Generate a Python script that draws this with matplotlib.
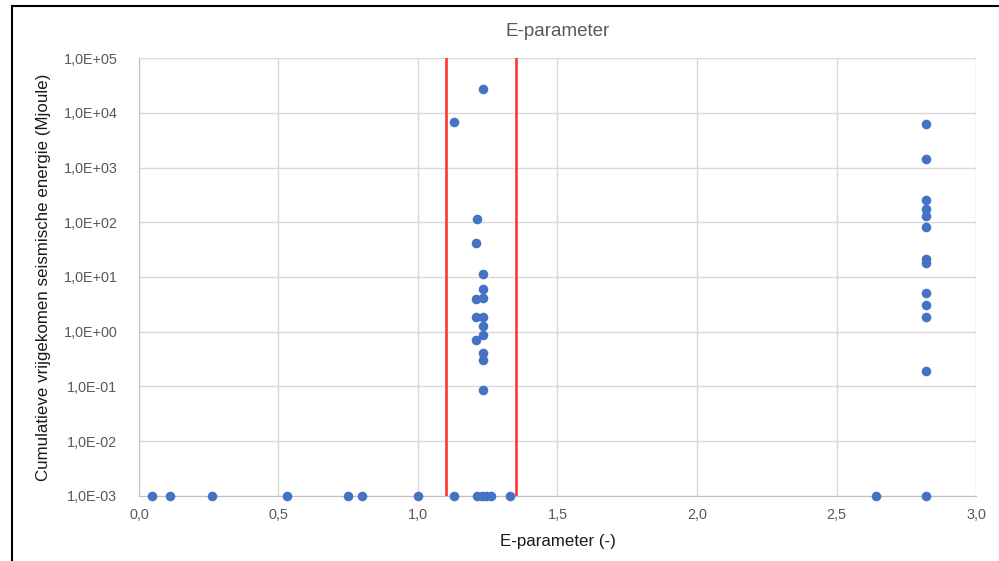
import matplotlib
matplotlib.use("Agg")
import matplotlib.pyplot as plt
from matplotlib.ticker import FuncFormatter, FixedLocator
from matplotlib.lines import Line2D

plt.rcParams["font.family"] = ["Liberation Sans", "DejaVu Sans"]

# Punten op de ondergrens (1,0E-03)
x_bodem = [0.045, 0.11, 0.26, 0.53, 0.75, 0.80, 1.00, 1.13, 1.21, 1.23, 1.245, 1.26, 1.33, 2.64, 2.82]
y_bodem = [1e-3] * len(x_bodem)

# Middelste cluster
x_midden = [1.232, 1.130, 1.210, 1.209, 1.232, 1.232, 1.232, 1.209, 1.209, 1.232,
            1.232, 1.232, 1.209, 1.232, 1.232, 1.232]
y_midden = [26800, 6780, 113, 41, 11.3, 5.96, 4.07, 3.9, 1.84, 1.84,
            1.26, 0.86, 0.72, 0.415, 0.30, 0.087]

# Rechter cluster
x_rechts = [2.82] * 12
y_rechts = [6150, 1413, 252, 177, 128, 81, 21, 17.8, 5.16, 3.08, 1.84, 0.19]

# Grenslijnen
grenzen = [1.1, 1.35]

x = x_bodem + x_midden + x_rechts
y = y_bodem + y_midden + y_rechts

fig = plt.figure(figsize=(9.99, 5.61), dpi=100)
ax = fig.add_axes([0.1391, 0.1159, 0.977 - 0.1391, 0.8966 - 0.1159])

ax.set_yscale("log")
ax.set_xlim(0, 3.0)
ax.set_ylim(1e-3, 1e5)

for g in grenzen:
    ax.axvline(g, color="#ff3333", linewidth=1.9, zorder=2)

ax.scatter(x, y, s=48, color="#4472c4", zorder=3, clip_on=False, linewidths=0)

ax.xaxis.set_major_locator(FixedLocator([0, 0.5, 1.0, 1.5, 2.0, 2.5, 3.0]))
ax.yaxis.set_major_locator(FixedLocator([10.0 ** k for k in range(-3, 6)]))
ax.yaxis.set_minor_locator(FixedLocator([]))
ax.xaxis.set_major_formatter(FuncFormatter(lambda v, p: f"{v:.1f}".replace(".", ",")))
ax.yaxis.set_major_formatter(FuncFormatter(lambda v, p: f"{v:.1E}".replace(".", ",")))

ax.grid(True, color="#d9d9d9", linewidth=1.0, zorder=0)
ax.set_axisbelow(True)
for s in ["top", "right"]:
    ax.spines[s].set_visible(False)
for s in ["left", "bottom"]:
    ax.spines[s].set_color("#bfbfbf")
ax.tick_params(length=0, labelsize=10.4, colors="#595959")
ax.tick_params(axis="x", pad=9)
ax.tick_params(axis="y", pad=15.5)

ax.set_title("E-parameter", fontsize=13.5, color="#595959", pad=16)
ax.set_xlabel("E-parameter (-)", fontsize=12.2, color="#1a1a1a", labelpad=8)
ax.set_ylabel("Cumulatieve vrijgekomen seismische energie (Mjoule)", fontsize=12.2,
              color="#1a1a1a", labelpad=9)

# zwarte rand van de uitsnede
fig.add_artist(Line2D([12 / 999, 1], [1 - 6 / 561, 1 - 6 / 561], color="black", linewidth=1.5,
                      transform=fig.transFigure))
fig.add_artist(Line2D([12 / 999, 12 / 999], [0, 1 - 6 / 561], color="black", linewidth=1.5,
                      transform=fig.transFigure))

fig.savefig("out.png", dpi=100)
